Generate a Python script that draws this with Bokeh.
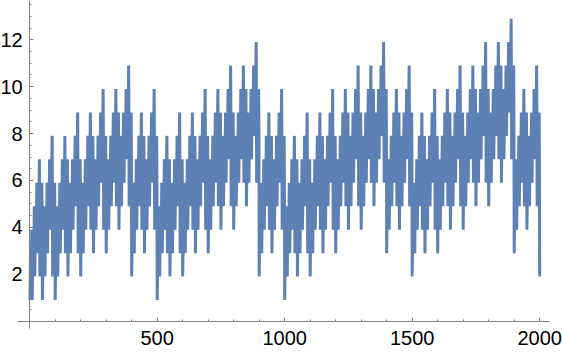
from bokeh.embed import file_html
from bokeh.resources import INLINE
from bokeh.plotting import figure
from bokeh.models import FixedTicker, Range1d

# Values per decade of x: at x0, x3, x5, x8, x9
at_x0 = [
 1,1,2,3,2,1,2,3,4,2, 1,2,3,4,3,2,3,4,5,3, 2,3,4,5,4,3,4,5,6,4, 3,4,5,6,5,4,5,6,7,5,
 2,3,4,5,4,3,4,5,6,4, 1,2,3,4,3,2,3,4,5,3, 2,3,4,5,4,3,4,5,6,4, 3,4,5,6,5,4,5,6,7,5,
 4,5,6,7,6,5,6,7,8,6, 2,3,4,5,4,3,4,5,6,4,
 1,2,3,4,3,2,3,4,5,3, 2,3,4,5,4,3,4,5,6,4, 3,4,5,6,5,4,5,6,7,5, 4,5,6,7,6,5,6,7,8,6,
 3,4,5,6,5,4,5,6,7,5, 2,3,4,5,4,3,4,5,6,4, 3,4,5,6,5,4,5,6,7,5, 4,5,6,7,6,5,6,7,8,6,
 5,6,7,8,7,6,7,8,9,7, 3,4,5,6,5,4,5,6,7,5,
]
at_x3 = [
 3,4,5,6,5,4,5,6,7,5, 4,5,6,7,6,5,6,7,8,6, 5,6,7,8,7,6,7,8,9,7, 6,7,8,9,8,7,8,9,10,8,
 5,6,7,8,7,6,7,8,9,7, 4,5,6,7,6,5,6,7,8,6, 5,6,7,8,7,6,7,8,9,7, 6,7,8,9,8,7,8,9,10,8,
 7,8,9,10,9,8,9,10,11,9, 5,6,7,8,7,6,7,8,9,7,
 4,5,6,7,6,5,6,7,8,6, 5,6,7,8,7,6,7,8,9,7, 6,7,8,9,8,7,8,9,10,8, 7,8,9,10,9,8,9,10,11,9,
 6,7,8,9,8,7,8,9,10,8, 5,6,7,8,7,6,7,8,9,7, 6,7,8,9,8,7,8,9,10,8, 7,8,9,10,9,8,9,10,11,9,
 8,9,10,11,10,9,10,11,12,10, 6,7,8,9,8,7,8,9,10,8,
]
at_x5 = [
 1,2,3,4,3,2,3,4,5,3, 2,3,4,5,4,3,4,5,6,4, 3,4,5,6,5,4,5,6,7,5, 4,5,6,7,6,5,6,7,8,6,
 3,4,5,6,5,4,5,6,7,5, 2,3,4,5,4,3,4,5,6,4, 3,4,5,6,5,4,5,6,7,5, 4,5,6,7,6,5,6,7,8,6,
 5,6,7,8,7,6,7,8,9,7, 3,4,5,6,5,4,5,6,7,5,
 2,3,4,5,4,3,4,5,6,4, 3,4,5,6,5,4,5,6,7,5, 4,5,6,7,6,5,6,7,8,6, 5,6,7,8,7,6,7,8,9,7,
 4,5,6,7,6,5,6,7,8,6, 3,4,5,6,5,4,5,6,7,5, 4,5,6,7,6,5,6,7,8,6, 5,6,7,8,7,6,7,8,9,7,
 6,7,8,9,8,7,8,9,10,8, 4,5,6,7,6,5,6,7,8,6,
]
at_x8 = [
 4,5,6,7,6,5,6,7,8,6, 5,6,7,8,7,6,7,8,9,7, 6,7,8,9,8,7,8,9,10,8, 7,8,9,10,9,8,9,10,11,9,
 6,7,8,9,8,7,8,9,10,8, 5,6,7,8,7,6,7,8,9,7, 6,7,8,9,8,7,8,9,10,8, 7,8,9,10,9,8,9,10,11,9,
 8,9,10,11,10,9,10,11,12,10, 6,7,8,9,8,7,8,9,10,8,
 5,6,7,8,7,6,7,8,9,7, 6,7,8,9,8,7,8,9,10,8, 7,8,9,10,9,8,9,10,11,9, 8,9,10,11,10,9,10,11,12,10,
 7,8,9,10,9,8,9,10,11,9, 6,7,8,9,8,7,8,9,10,8, 7,8,9,10,9,8,9,10,11,9, 8,9,10,11,10,9,10,11,12,10,
 9,10,11,12,11,10,11,12,13,11, 7,8,9,10,9,8,9,10,11,9,
]
at_x9 = [
 2,3,4,5,4,3,4,5,6,4, 3,4,5,6,5,4,5,6,7,5, 4,5,6,7,6,5,6,7,8,6, 5,6,7,8,7,6,7,8,9,7,
 4,5,6,7,6,5,6,7,8,6, 3,4,5,6,5,4,5,6,7,5, 4,5,6,7,6,5,6,7,8,6, 5,6,7,8,7,6,7,8,9,7,
 6,7,8,9,8,7,8,9,10,8, 4,5,6,7,6,5,6,7,8,6,
 3,4,5,6,5,4,5,6,7,5, 4,5,6,7,6,5,6,7,8,6, 5,6,7,8,7,6,7,8,9,7, 6,7,8,9,8,7,8,9,10,8,
 5,6,7,8,7,6,7,8,9,7, 4,5,6,7,6,5,6,7,8,6, 5,6,7,8,7,6,7,8,9,7, 6,7,8,9,8,7,8,9,10,8,
 7,8,9,10,9,8,9,10,11,9, 5,6,7,8,7,6,7,8,9,7,
]
last_x, last_y = 2000, 2
x_major = [500, 1000, 1500, 2000]
x_minor = [100, 200, 300, 400, 600, 700, 800, 900, 1100, 1200, 1300, 1400, 1600, 1700, 1800, 1900]
y_major = [2, 4, 6, 8, 10, 12]
y_minor = [0.5, 1, 1.5, 2.5, 3, 3.5, 4.5, 5, 5.5, 6.5, 7, 7.5, 8.5, 9, 9.5, 10.5, 11, 11.5, 12.5, 13, 13.5]

xs, ys = [], []
for i in range(len(at_x0)):
    xs += [i * 10 + (1 if i == 0 else 0), i * 10 + 3, i * 10 + 5, i * 10 + 8, i * 10 + 9]
    ys += [at_x0[i], at_x3[i], at_x5[i], at_x8[i], at_x9[i]]
xs.append(last_x)
ys.append(last_y)

AXIS = "#808080"
p = figure(width=563, height=355, output_backend="svg", toolbar_location=None,
           x_range=(-114.5, 2093.4), y_range=(-1.464, 13.676),
           min_border_left=0, min_border_right=0, min_border_top=0, min_border_bottom=0)
p.extra_y_ranges = {"series": Range1d(-1.366, 13.774)}
p.outline_line_color = None
p.background_fill_color = "white"
p.grid.visible = False
p.line(xs, ys, line_color="#5E81B5", line_width=3, line_join="bevel", y_range_name="series")

p.xaxis.ticker = FixedTicker(ticks=x_major, minor_ticks=x_minor)
p.yaxis.ticker = FixedTicker(ticks=y_major, minor_ticks=y_minor)
p.xaxis.fixed_location = -0.03
p.yaxis.fixed_location = 0
p.xaxis.bounds = (-45.9, 2040.4)
p.yaxis.bounds = (-0.311, 13.676)
for ax in (p.xaxis[0], p.yaxis[0]):
    ax.axis_line_color = AXIS
    ax.major_tick_line_color = AXIS
    ax.minor_tick_line_color = AXIS
    ax.major_tick_in = 4
    ax.major_tick_out = 0
    ax.minor_tick_in = 2
    ax.minor_tick_out = 0
    ax.major_label_text_font = "Liberation Sans"
    ax.major_label_text_font_size = "20px"
    ax.major_label_text_color = "black"
p.xaxis.major_label_standoff = 9
p.yaxis.major_label_standoff = 7

open("out.html", "w").write(file_html(p, INLINE))
